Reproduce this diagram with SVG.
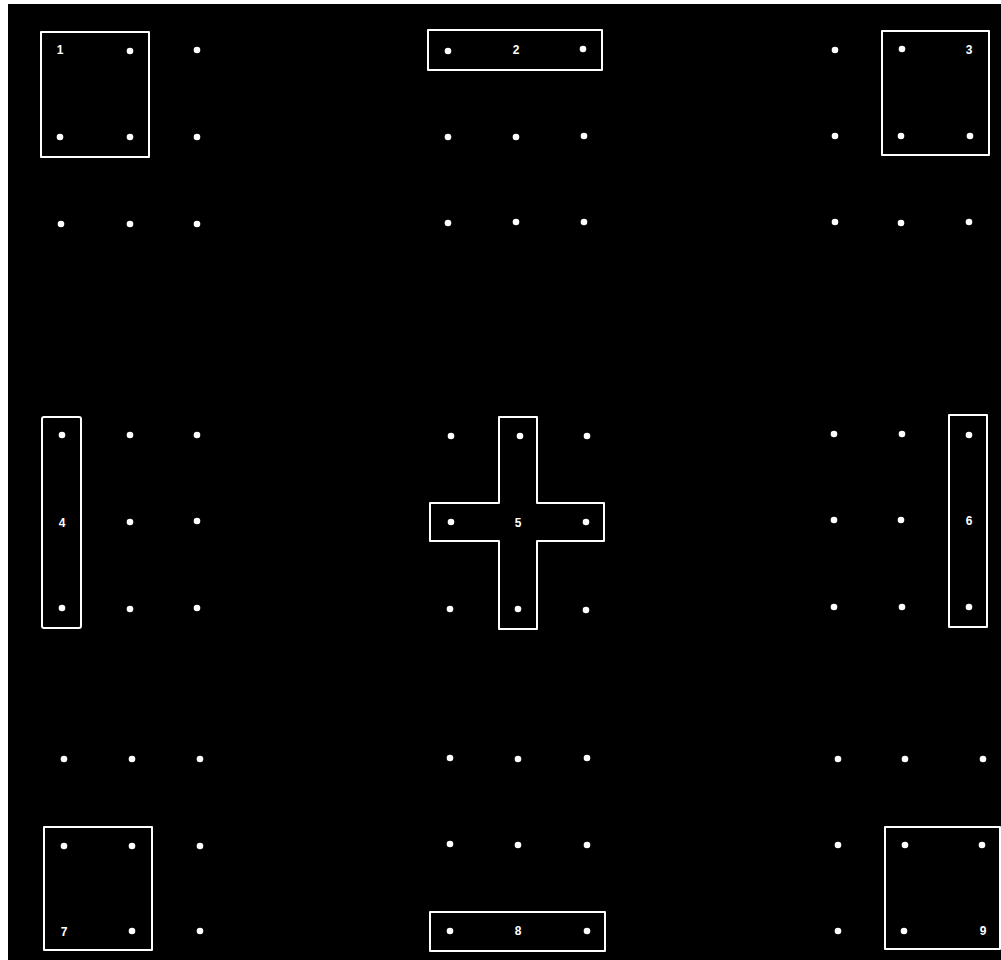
<svg xmlns="http://www.w3.org/2000/svg" width="1001" height="960" viewBox="0 0 1001 960">
<style>
.o{fill:none;stroke:#fff;stroke-width:2;stroke-linejoin:round}
.d{fill:#fff}
.t{fill:#fff;font-family:"Liberation Sans",Arial,sans-serif;font-size:12px;font-weight:bold;text-anchor:middle;dominant-baseline:central}
</style>
<defs><circle id="dot" r="3.3" class="d"/></defs>
<rect x="0" y="0" width="1001" height="960" fill="#fff"/>
<rect x="8" y="4" width="993" height="956" fill="#000"/>
<g id="dots">
<use href="#dot" x="130" y="51"/><use href="#dot" x="197" y="50"/>
<use href="#dot" x="60" y="137"/><use href="#dot" x="130" y="137"/><use href="#dot" x="197" y="137"/>
<use href="#dot" x="61" y="224"/><use href="#dot" x="130" y="224"/><use href="#dot" x="197" y="224"/>
<use href="#dot" x="448" y="51"/><use href="#dot" x="583" y="49"/>
<use href="#dot" x="448" y="137"/><use href="#dot" x="516" y="137"/><use href="#dot" x="584" y="136"/>
<use href="#dot" x="448" y="223"/><use href="#dot" x="516" y="222"/><use href="#dot" x="584" y="222"/>
<use href="#dot" x="835" y="50"/><use href="#dot" x="902" y="49"/>
<use href="#dot" x="835" y="136"/><use href="#dot" x="901" y="136"/><use href="#dot" x="970" y="136"/>
<use href="#dot" x="835" y="222"/><use href="#dot" x="901" y="223"/><use href="#dot" x="969" y="222"/>
<use href="#dot" x="62" y="435"/><use href="#dot" x="130" y="435"/><use href="#dot" x="197" y="435"/>
<use href="#dot" x="130" y="522"/><use href="#dot" x="197" y="521"/>
<use href="#dot" x="62" y="608"/><use href="#dot" x="130" y="609"/><use href="#dot" x="197" y="608"/>
<use href="#dot" x="451" y="436"/><use href="#dot" x="520" y="436"/><use href="#dot" x="587" y="436"/>
<use href="#dot" x="451" y="522"/><use href="#dot" x="586" y="522"/>
<use href="#dot" x="450" y="609"/><use href="#dot" x="518" y="609"/><use href="#dot" x="586" y="610"/>
<use href="#dot" x="834" y="434"/><use href="#dot" x="902" y="434"/><use href="#dot" x="969" y="435"/>
<use href="#dot" x="834" y="520"/><use href="#dot" x="901" y="520"/>
<use href="#dot" x="834" y="607"/><use href="#dot" x="902" y="607"/><use href="#dot" x="969" y="607"/>
<use href="#dot" x="64" y="759"/><use href="#dot" x="132" y="759"/><use href="#dot" x="200" y="759"/>
<use href="#dot" x="64" y="846"/><use href="#dot" x="132" y="846"/><use href="#dot" x="200" y="846"/>
<use href="#dot" x="132" y="931"/><use href="#dot" x="200" y="931"/>
<use href="#dot" x="450" y="758"/><use href="#dot" x="518" y="759"/><use href="#dot" x="587" y="758"/>
<use href="#dot" x="450" y="844"/><use href="#dot" x="518" y="845"/><use href="#dot" x="587" y="845"/>
<use href="#dot" x="450" y="931"/><use href="#dot" x="587" y="931"/>
<use href="#dot" x="838" y="759"/><use href="#dot" x="905" y="759"/><use href="#dot" x="983" y="759"/>
<use href="#dot" x="838" y="845"/><use href="#dot" x="905" y="845"/><use href="#dot" x="982" y="845"/>
<use href="#dot" x="838" y="931"/><use href="#dot" x="904" y="931"/>
</g>
<g id="connectors"></g>
<g id="n1"><rect class="o" x="41" y="32" width="108" height="125"/><text class="t" x="60" y="50">1</text></g>
<g id="n2"><rect class="o" x="428" y="30" width="174" height="40"/><text class="t" x="516" y="50">2</text></g>
<g id="n3"><rect class="o" x="882" y="31" width="107" height="124"/><text class="t" x="969" y="50">3</text></g>
<g id="n4"><rect class="o" x="42" y="417" width="39" height="211" rx="2"/><text class="t" x="62" y="523">4</text></g>
<g id="n5"><path class="o" d="M499,417 H537 V503 H604 V541 H537 V629 H499 V541 H430 V503 H499 Z"/><text class="t" x="518" y="523">5</text></g>
<g id="n6"><rect class="o" x="949" y="415" width="38" height="212"/><text class="t" x="969" y="521">6</text></g>
<g id="n7"><rect class="o" x="44" y="827" width="108" height="123"/><text class="t" x="64" y="932">7</text></g>
<g id="n8"><rect class="o" x="430" y="912" width="175" height="39"/><text class="t" x="518" y="931">8</text></g>
<g id="n9"><rect class="o" x="885" y="827" width="115" height="122"/><text class="t" x="983" y="931">9</text></g>
</svg>
